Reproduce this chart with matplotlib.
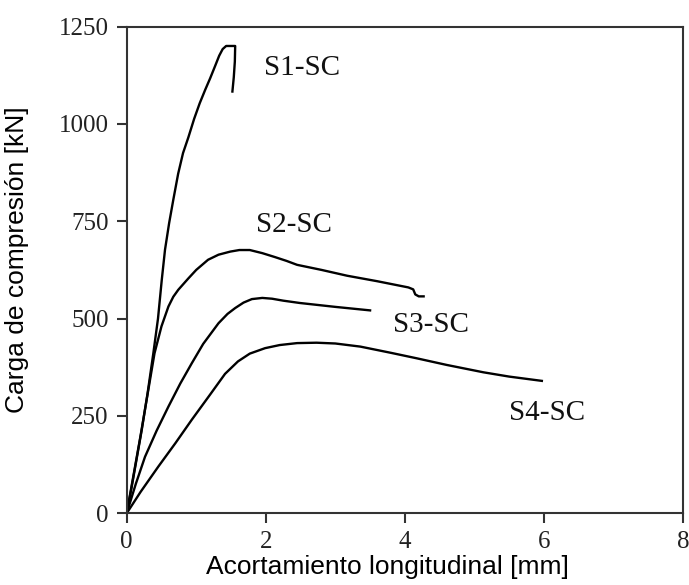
import matplotlib
matplotlib.use("Agg")
import matplotlib.pyplot as plt

# load-shortening curves (mm, kN)
s1_x = [0, 0.072, 0.216, 0.3, 0.383, 0.45, 0.504, 0.551, 0.61, 0.67, 0.74, 0.81, 0.886,
        0.97, 1.05, 1.13, 1.2, 1.27, 1.33, 1.38, 1.43, 1.56, 1.555, 1.54, 1.52]
s1_y = [0, 68, 214, 308, 411, 500, 599, 677, 745, 805, 872, 925, 965,
        1013, 1053, 1088, 1117, 1148, 1175, 1192, 1200, 1200, 1160, 1120, 1083]

s2_x = [0, 0.2, 0.4, 0.5, 0.6, 0.67, 0.742, 0.886, 1.0, 1.17, 1.32, 1.49, 1.62, 1.77,
        1.95, 2.13, 2.3, 2.45, 2.8, 3.17, 3.6, 4.05, 4.12, 4.15, 4.2, 4.27]
s2_y = [0, 200, 411, 480, 531, 556, 574, 603, 625, 651, 664, 672, 676, 676,
        668, 658, 648, 638, 625, 610, 596, 580, 575, 562, 557, 557]

s3_x = [0, 0.13, 0.263, 0.43, 0.6, 0.77, 0.935, 1.1, 1.32, 1.45, 1.56, 1.68, 1.8,
        1.95, 2.09, 2.25, 2.49, 3.0, 3.5]
s3_y = [0, 75, 145, 212, 274, 333, 385, 435, 488, 512, 527, 541, 550,
        553, 551, 546, 540, 530, 521]

s4_x = [0, 0.2, 0.455, 0.7, 0.935, 1.2, 1.414, 1.6, 1.77, 1.99, 2.2, 2.45, 2.73,
        3.0, 3.36, 3.8, 4.17, 4.6, 5.13, 5.5, 5.97]
s4_y = [0, 55, 120, 180, 240, 305, 358, 390, 410, 424, 432, 437, 438,
        436, 428, 412, 398, 381, 362, 351, 340]

labels = ["S1-SC", "S2-SC", "S3-SC", "S4-SC"]
label_x = [2.52, 2.41, 4.38, 6.05]
label_y = [1144, 740, 484, 258]

xticks = [0, 2, 4, 6, 8]
yticks = [0, 250, 500, 750, 1000, 1250]

fig = plt.figure(figsize=(6.89, 5.85), dpi=100)
ax = fig.add_axes([0.1839, 0.1226, 0.8074, 0.8321])

for xs, ys in [(s1_x, s1_y), (s2_x, s2_y), (s3_x, s3_y), (s4_x, s4_y)]:
    ax.plot(xs, ys, color="black", lw=1.7, solid_joinstyle="round")

for txt, tx, ty in zip(labels, label_x, label_y):
    ax.text(tx, ty, txt, ha="center", va="center", fontsize=21,
            family="Liberation Serif", color="#111111")

ax.set_xlim(0, 8)
ax.set_ylim(0, 1250)
ax.set_xticks(xticks)
ax.set_yticks(yticks)
ax.tick_params(direction="out", length=7, width=1.5, color="#333333",
               labelsize=18, pad=6)
for lab in ax.get_xticklabels() + ax.get_yticklabels():
    lab.set_family("Liberation Serif")
    lab.set_color("#222222")

for sp in ax.spines.values():
    sp.set_linewidth(1.5)
    sp.set_color("#333333")

ax.set_xlabel("Acortamiento longitudinal [mm]", fontsize=19,
              family="Liberation Sans")
ax.xaxis.set_label_coords(0.469, -0.085)
ax.set_ylabel("Carga de compresión [kN]", fontsize=19,
              family="Liberation Sans")
ax.yaxis.set_label_coords(-0.175, 0.52)

fig.savefig("out.png", dpi=100)
